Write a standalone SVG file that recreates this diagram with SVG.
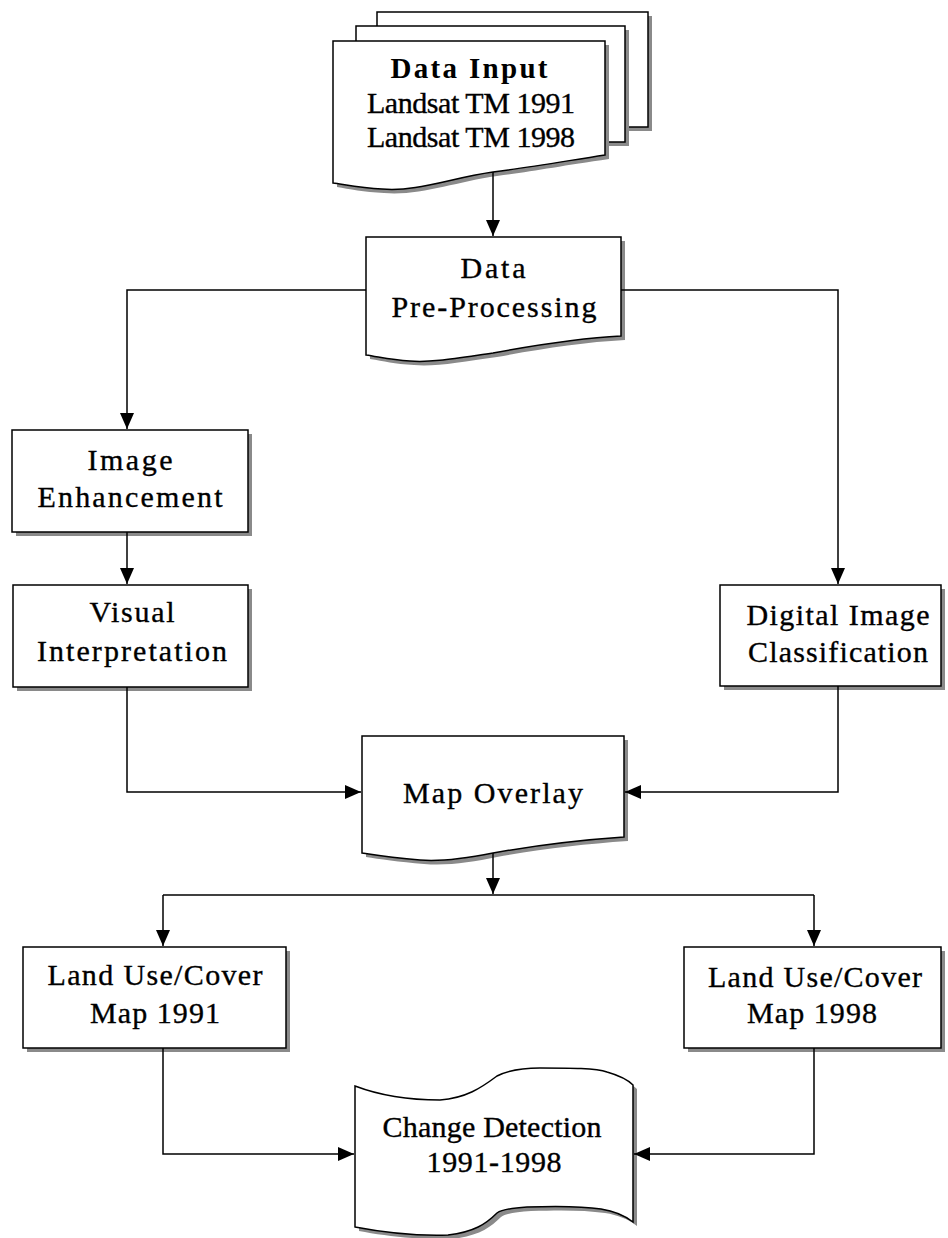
<svg xmlns="http://www.w3.org/2000/svg" width="948" height="1238" viewBox="0 0 948 1238">
<style>
  .box{fill:#fff;stroke:#000;stroke-width:1.5}
  .sh{fill:#8a8a8a;stroke:none}
  .t{font-family:"Liberation Serif","Times New Roman",serif;font-size:30px;fill:#000;stroke:#000;stroke-width:0.35;text-anchor:middle}
  .b{font-weight:bold;font-size:29px;stroke-width:0}
  .c{fill:none;stroke:#000;stroke-width:1.5}
</style>
<defs>
  <marker id="ah" viewBox="0 0 16 16" refX="16" refY="8" markerWidth="16" markerHeight="16" markerUnits="userSpaceOnUse" orient="auto">
    <path d="M0,1 L16,8 L0,15 Z" fill="#000"/>
  </marker>
</defs>
<rect width="948" height="1238" fill="#fff"/>

<g id="data-input">
  <rect class="sh" x="381" y="16" width="271" height="115"/>
  <rect class="box" x="377" y="12" width="271" height="115"/>
  <rect class="sh" x="360" y="30" width="269" height="116"/>
  <rect class="box" x="356" y="26" width="269" height="116"/>
  <path class="sh" d="M337,45 H609 V159 C560,166 530,172 497,176 C455,182 420,196 384,193 C364,192 349,189 337,187 Z"/>
  <path class="box" d="M333,41 H605 V155 C560,162 525,168 493,172 C450,178 418,192 382,189 C362,188 347,185 333,183 Z"/>
  <text class="t b" x="469" y="78" textLength="157" lengthAdjust="spacing">Data Input</text>
  <text class="t" x="471" y="113" textLength="208" lengthAdjust="spacing">Landsat TM 1991</text>
  <text class="t" x="471" y="147" textLength="208" lengthAdjust="spacing">Landsat TM 1998</text>
</g>

<g id="pre-processing">
  <path class="sh" d="M370,241 H625 V340 C585,342 540,349 497,357 C462,362 434,367 414,365 C394,364 384,361 370,359 Z"/>
  <path class="box" d="M366,237 H621 V336 C581,338 536,345 493,353 C458,358 430,363 410,361 C390,360 380,357 366,355 Z"/>
  <text class="t" x="493" y="278" textLength="65" lengthAdjust="spacing">Data</text>
  <text class="t" x="494" y="317" textLength="205" lengthAdjust="spacing">Pre-Processing</text>
</g>

<g id="image-enhancement">
  <rect class="sh" x="16" y="434" width="236" height="102"/>
  <rect class="box" x="12" y="430" width="236" height="102"/>
  <text class="t" x="130" y="470" textLength="85" lengthAdjust="spacing">Image</text>
  <text class="t" x="130" y="507" textLength="185" lengthAdjust="spacing">Enhancement</text>
</g>

<g id="visual-interpretation">
  <rect class="sh" x="17" y="589" width="235" height="102"/>
  <rect class="box" x="13" y="585" width="235" height="102"/>
  <text class="t" x="132" y="622" textLength="85" lengthAdjust="spacing">Visual</text>
  <text class="t" x="132" y="661" textLength="190" lengthAdjust="spacing">Interpretation</text>
</g>

<g id="digital-classification">
  <rect class="sh" x="724" y="589" width="221" height="101"/>
  <rect class="box" x="720" y="585" width="221" height="101"/>
  <text class="t" x="838" y="625" textLength="183" lengthAdjust="spacing">Digital Image</text>
  <text class="t" x="838" y="662" textLength="180" lengthAdjust="spacing">Classification</text>
</g>

<g id="map-overlay">
  <path class="sh" d="M366,740 H628 V841 C584,844 542,849 497,857 C472,862 448,866 424,864 C399,862 379,859 366,857 Z"/>
  <path class="box" d="M362,736 H624 V837 C580,840 538,845 493,853 C468,858 444,862 420,860 C395,858 375,855 362,853 Z"/>
  <text class="t" x="493" y="803" textLength="180" lengthAdjust="spacing">Map Overlay</text>
</g>

<g id="landuse-1991">
  <rect class="sh" x="27" y="951" width="263" height="101"/>
  <rect class="box" x="23" y="947" width="263" height="101"/>
  <text class="t" x="155" y="985" textLength="215" lengthAdjust="spacing">Land Use/Cover</text>
  <text class="t" x="155" y="1023" textLength="130" lengthAdjust="spacing">Map 1991</text>
</g>

<g id="landuse-1998">
  <rect class="sh" x="688" y="951" width="257" height="101"/>
  <rect class="box" x="684" y="947" width="257" height="101"/>
  <text class="t" x="815" y="987" textLength="214" lengthAdjust="spacing">Land Use/Cover</text>
  <text class="t" x="812" y="1023" textLength="130" lengthAdjust="spacing">Map 1998</text>
</g>

<g id="change-detection">
  <path class="sh" d="M359,1090 C380,1098 410,1104 444,1104 C470,1102 485,1092 501,1080 C515,1073 530,1072 544,1072 C575,1072 600,1072 611,1076 C625,1080 632,1084 637,1089 V1226 C628,1219 618,1215 605,1213 C585,1210 560,1210 531,1211 C515,1212 505,1214 501,1217 C490,1228 478,1236 452,1239 C420,1240 385,1236 359,1231 Z"/>
  <path class="box" d="M355,1086 C376,1094 406,1100 440,1100 C466,1098 481,1088 497,1076 C511,1069 526,1068 540,1068 C571,1068 596,1068 607,1072 C621,1076 628,1080 633,1085 V1222 C624,1215 614,1211 601,1209 C581,1206 556,1206 527,1207 C511,1208 501,1210 497,1213 C486,1224 474,1232 448,1235 C416,1236 381,1232 355,1227 Z"/>
  <text class="t" x="492" y="1137" textLength="219" lengthAdjust="spacing">Change Detection</text>
  <text class="t" x="494" y="1172" textLength="135" lengthAdjust="spacing">1991-1998</text>
</g>

<g id="connectors">
  <path class="c" d="M493,172 V236" marker-end="url(#ah)"/>
  <path class="c" d="M366,290 H127 V429" marker-end="url(#ah)"/>
  <path class="c" d="M621,290 H838 V584" marker-end="url(#ah)"/>
  <path class="c" d="M127,532 V584" marker-end="url(#ah)"/>
  <path class="c" d="M127,687 V792 H361" marker-end="url(#ah)"/>
  <path class="c" d="M838,686 V792 H625" marker-end="url(#ah)"/>
  <path class="c" d="M493,853 V894" marker-end="url(#ah)"/>
  <path class="c" d="M163,895 H814"/>
  <path class="c" d="M163,895 V946" marker-end="url(#ah)"/>
  <path class="c" d="M814,895 V946" marker-end="url(#ah)"/>
  <path class="c" d="M163,1048 V1154 H354" marker-end="url(#ah)"/>
  <path class="c" d="M814,1048 V1154 H634" marker-end="url(#ah)"/>
</g>
</svg>
